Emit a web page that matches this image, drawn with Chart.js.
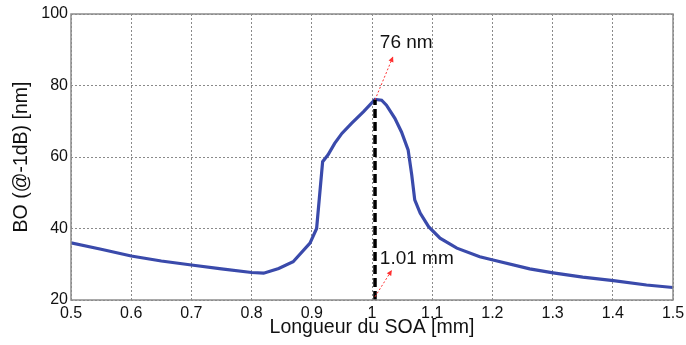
<!DOCTYPE html>
<html>
<head>
<meta charset="utf-8">
<script src="https://cdn.jsdelivr.net/npm/chart.js@4.4.0/dist/chart.umd.min.js"></script>
<style>
  html, body { margin: 0; padding: 0; background: #fff; overflow: hidden; }
  #wrap { width: 686px; height: 345px; }
</style>
</head>
<body>
<div id="wrap"><canvas id="chart"></canvas></div>
<script>
// Longueur du SOA [mm] -> BO (@-1dB) [nm]
const lengthMm = [0.5, 0.55, 0.6, 0.65, 0.7, 0.75, 0.8, 0.82, 0.845, 0.869, 0.897, 0.908, 0.918, 0.927, 0.938, 0.95, 0.966, 0.986, 1.005,
                  1.016, 1.024, 1.038, 1.049, 1.06, 1.066, 1.071, 1.08, 1.094, 1.113, 1.141, 1.179, 1.201, 1.262, 1.301, 1.35, 1.401, 1.456, 1.5];
const boNm     = [36.0, 34.2, 32.3, 30.9, 29.8, 28.7, 27.7, 27.5, 28.8, 30.7, 35.9, 40.0, 58.7, 60.6, 63.8, 66.6, 69.4, 72.7, 76.1,
                  75.9, 74.5, 70.8, 67.0, 62.0, 55.0, 48.0, 44.3, 40.5, 37.3, 34.5, 32.1, 31.2, 28.7, 27.6, 26.4, 25.4, 24.2, 23.5];

const xTicks = [0.5, 0.6, 0.7, 0.8, 0.9, 1, 1.1, 1.2, 1.3, 1.4, 1.5];
const yTicks = [20, 40, 60, 80, 100];

// marqueur du maximum (ligne pointillée noire)
const peakX = [1.005, 1.005];
const peakY = [20, 76];

// flèches rouges + textes
const arrows = [
    { from: [1.005, 76], to: [1.035, 88.1] },
    { from: [1.005, 20.9], to: [1.033, 28.4] },
];
const notes = [
    { text: "76 nm",   at: [1.013, 91.9] },
    { text: "1.01 mm", at: [1.013, 31.5] },
];

const FONT = "'Liberation Sans', Arial, sans-serif";

const framePlugin = {
    id: "frame",
    afterDraw(chart) {
        const { ctx, chartArea: a, scales } = chart;
        const sx = scales.x, sy = scales.y;
        ctx.save();
        // cadre
        ctx.strokeStyle = "#8c8c8c";
        ctx.lineWidth = 1.5;
        ctx.strokeRect(a.left, a.top, a.right - a.left, a.bottom - a.top);

        // flèches
        ctx.strokeStyle = "#ff3030";
        ctx.fillStyle = "#ff3030";
        ctx.lineWidth = 1;
        arrows.forEach(function(ar) {
            const x0 = sx.getPixelForValue(ar.from[0]), y0 = sy.getPixelForValue(ar.from[1]);
            const x1 = sx.getPixelForValue(ar.to[0]),   y1 = sy.getPixelForValue(ar.to[1]);
            ctx.setLineDash([2, 2]);
            ctx.beginPath(); ctx.moveTo(x0, y0); ctx.lineTo(x1, y1); ctx.stroke();
            ctx.setLineDash([]);
            const ang = Math.atan2(y1 - y0, x1 - x0);
            ctx.beginPath();
            ctx.moveTo(x1, y1);
            ctx.lineTo(x1 - 6 * Math.cos(ang - 0.45), y1 - 6 * Math.sin(ang - 0.45));
            ctx.lineTo(x1 - 6 * Math.cos(ang + 0.45), y1 - 6 * Math.sin(ang + 0.45));
            ctx.closePath(); ctx.fill();
        });

        // textes
        ctx.fillStyle = "#111";
        ctx.font = "19px " + FONT;
        ctx.textBaseline = "middle";
        ctx.textAlign = "left";
        notes.forEach(function(n) {
            ctx.fillText(n.text, sx.getPixelForValue(n.at[0]), sy.getPixelForValue(n.at[1]));
        });
        ctx.restore();
    },
};

new Chart(document.getElementById("chart"), {
    type: "line",
    data: {
        datasets: [
            {
                data: lengthMm.map(function(x, i) { return { x: x, y: boNm[i] }; }),
                borderColor: "#3a4aab",
                borderWidth: 3.2,
                pointRadius: 0,
                tension: 0,
                order: 2,
            },
            {
                data: peakX.map(function(x, i) { return { x: x, y: peakY[i] }; }),
                borderColor: "#000",
                borderWidth: 3.5,
                borderDash: [9, 4],
                pointRadius: 0,
                order: 1,
            },
        ],
    },
    options: {
        responsive: true,
        maintainAspectRatio: false,
        animation: false,
        layout: { padding: { top: 14, right: 13, left: 0, bottom: 0 } },
        plugins: { legend: { display: false }, tooltip: { enabled: false } },
        scales: {
            x: {
                type: "linear",
                min: 0.5, max: 1.5,
                afterBuildTicks: function(s) { s.ticks = xTicks.map(function(v) { return { value: v }; }); },
                afterFit: function(s) { s.height = 45; s.paddingLeft = 0; s.paddingRight = 0; },
                ticks: {
                    color: "#111", font: { size: 16, family: FONT }, padding: 4,
                    maxRotation: 0, autoSkip: false,
                    callback: function(v) { return String(v); },
                },
                grid: { color: "#8a8a8a", lineWidth: 1, drawTicks: false },
                border: { display: false, dash: [2, 2] },
                title: {
                    display: true, text: "Longueur du SOA [mm]", color: "#111",
                    font: { size: 19.5, family: FONT }, padding: { top: 0, bottom: 6 },
                },
            },
            y: {
                type: "linear",
                min: 20, max: 100,
                afterBuildTicks: function(s) { s.ticks = yTicks.map(function(v) { return { value: v }; }); },
                afterFit: function(s) { s.width = 71; s.paddingTop = 0; s.paddingBottom = 0; },
                ticks: { color: "#111", font: { size: 16, family: FONT }, padding: 3 },
                grid: { color: "#8a8a8a", lineWidth: 1, drawTicks: false },
                border: { display: false, dash: [2, 2] },
                title: {
                    display: true, text: "BO (@-1dB) [nm]", color: "#111",
                    font: { size: 19.5, family: FONT }, padding: { top: 10, bottom: 0 },
                },
            },
        },
    },
    plugins: [framePlugin],
});
</script>
</body>
</html>
